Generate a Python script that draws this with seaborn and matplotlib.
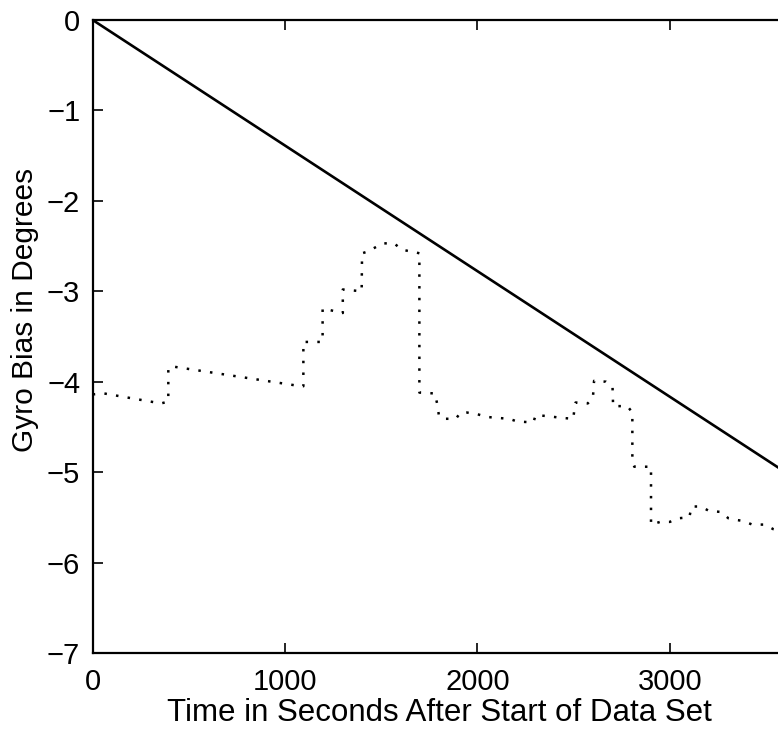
import numpy as np
import pandas as pd
import seaborn as sns
import matplotlib
matplotlib.use("Agg")
import matplotlib.pyplot as plt

# straight reference line
ref_time = [0, 3600]
ref_bias = [0.0, -5.0]

# estimated gyro bias
est_time = [0, 60, 355, 393, 393, 410, 1083, 1095, 1095, 1192, 1195, 1195, 1300, 1300,
            1398, 1400, 1430, 1507, 1567, 1606, 1680, 1698, 1698, 1779, 1790, 1800,
            1826, 1888, 1912, 1943, 2000, 2051, 2103, 2164, 2207, 2290, 2303, 2363,
            2437, 2498, 2505, 2510, 2573, 2600, 2606, 2668, 2702, 2705, 2779, 2805,
            2805, 2815, 2888, 2902, 2902, 2950, 3000, 3044, 3101, 3113, 3160, 3205,
            3266, 3304, 3350, 3382, 3428, 3494, 3537, 3600]
est_bias = [-4.14, -4.13, -4.24, -4.22, -3.85, -3.83, -4.05, -4.05, -3.56, -3.56, -3.56,
            -3.19, -3.24, -2.98, -3.00, -2.58, -2.56, -2.47, -2.47, -2.54, -2.57, -2.58,
            -4.12, -4.13, -4.24, -4.38, -4.41, -4.41, -4.34, -4.34, -4.36, -4.39, -4.40,
            -4.41, -4.44, -4.45, -4.37, -4.38, -4.40, -4.41, -4.28, -4.23, -4.24, -4.18,
            -3.99, -4.00, -4.06, -4.27, -4.27, -4.34, -4.87, -4.94, -4.94, -4.94, -5.58,
            -5.55, -5.55, -5.51, -5.50, -5.38, -5.38, -5.43, -5.44, -5.51, -5.53, -5.54,
            -5.58, -5.58, -5.63, -5.66]

x_ticks = [0, 1000, 2000, 3000]
y_ticks = [-7, -6, -5, -4, -3, -2, -1, 0]

sns.set_style("ticks")
plt.rcParams['font.family'] = ['Liberation Sans', 'DejaVu Sans']
plt.rcParams['text.color'] = 'black'
plt.rcParams['axes.labelcolor'] = 'black'
plt.rcParams['xtick.color'] = 'black'
plt.rcParams['ytick.color'] = 'black'
plt.rcParams['axes.edgecolor'] = 'black'

fig = plt.figure(figsize=(7.78, 7.36), dpi=100)
ax = fig.add_axes([92.7 / 778, 83 / 736, 692.6 / 778, 633 / 736])

ref_df = pd.DataFrame({'t': ref_time, 'b': ref_bias})
est_df = pd.DataFrame({'t': est_time, 'b': est_bias})

sns.lineplot(data=ref_df, x='t', y='b', ax=ax, color='black', linewidth=1.9,
             sort=False, estimator=None)
sns.lineplot(data=est_df, x='t', y='b', ax=ax, color='black', linewidth=1.8,
             sort=False, estimator=None, linestyle=(0, (1, 3.7)))

ax.set_xlim(0, 3600)
ax.set_ylim(-7, 0)
ax.set_xticks(x_ticks)
ax.set_yticks(y_ticks)
ax.tick_params(direction='in', length=7, width=1.2, labelsize=21, top=True, right=False)
ax.tick_params(axis='x', pad=11)
ax.tick_params(axis='y', pad=9)
for s in ax.spines.values():
    s.set_linewidth(1.6)
    s.set_visible(True)

ax.set_xlabel('Time in Seconds After Start of Data Set', fontsize=22.5, labelpad=1)
ax.set_ylabel('Gyro Bias in Degrees', fontsize=21.5)
ax.yaxis.set_label_coords(-0.078, 0.542)

fig.savefig('out.png', dpi=100)
